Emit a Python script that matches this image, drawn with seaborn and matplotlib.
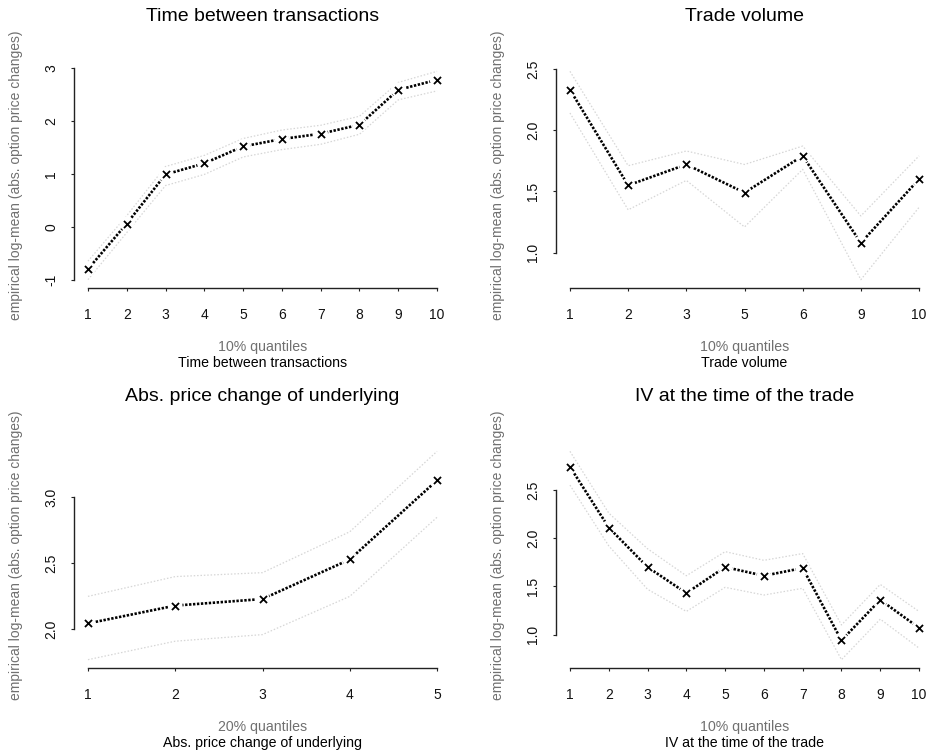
import matplotlib
matplotlib.use("Agg")
import matplotlib.pyplot as plt
import seaborn as sns
import pandas as pd

# ---- data ----
time_labels = ["1", "2", "3", "4", "5", "6", "7", "8", "9", "10"]
time_mean = [-0.80, 0.06, 0.99, 1.20, 1.52, 1.66, 1.76, 1.93, 2.59, 2.78]
time_upper = [-0.65, 0.21, 1.14, 1.35, 1.67, 1.83, 1.92, 2.09, 2.73, 2.94]
time_lower = [-1.00, -0.11, 0.78, 0.99, 1.32, 1.46, 1.56, 1.75, 2.40, 2.57]

vol_labels = ["1", "2", "3", "5", "6", "9", "10"]
vol_mean = [2.33, 1.55, 1.72, 1.49, 1.79, 1.08, 1.60]
vol_upper = [2.48, 1.71, 1.83, 1.72, 1.87, 1.30, 1.79]
vol_lower = [2.14, 1.35, 1.59, 1.21, 1.68, 0.78, 1.37]

und_labels = ["1", "2", "3", "4", "5"]
und_mean = [2.045, 2.18, 2.23, 2.53, 3.13]
und_upper = [2.25, 2.40, 2.43, 2.74, 3.35]
und_lower = [1.77, 1.91, 1.96, 2.25, 2.85]

iv_labels = ["1", "2", "3", "4", "5", "6", "7", "8", "9", "10"]
iv_mean = [2.74, 2.11, 1.70, 1.43, 1.70, 1.61, 1.69, 0.94, 1.36, 1.07]
iv_upper = [2.90, 2.26, 1.89, 1.61, 1.86, 1.77, 1.84, 1.10, 1.52, 1.24]
iv_lower = [2.55, 1.92, 1.47, 1.24, 1.49, 1.41, 1.48, 0.74, 1.16, 0.86]

titles = ["Time between transactions", "Trade volume",
          "Abs. price change of underlying", "IV at the time of the trade"]
quantile_text = ["10% quantiles", "10% quantiles", "20% quantiles", "10% quantiles"]
yticks = [[-1, 0, 1, 2, 3], [1.0, 1.5, 2.0, 2.5], [2.0, 2.5, 3.0], [1.0, 1.5, 2.0, 2.5]]
ytick_fmt = ["{:.0f}", "{:.1f}", "{:.1f}", "{:.1f}"]
ylab = "empirical log-mean (abs. option price changes)"

panels = [
    (time_labels, time_mean, time_upper, time_lower),
    (vol_labels, vol_mean, vol_upper, vol_lower),
    (und_labels, und_mean, und_upper, und_lower),
    (iv_labels, iv_mean, iv_upper, iv_lower),
]

sns.set_theme(style="white")
plt.rcParams["font.family"] = ["Liberation Sans", "DejaVu Sans"]

W, H = 930, 755
fig = plt.figure(figsize=(W / 100, H / 100), dpi=100)

# axes boxes in pixels: left, top, right, bottom
boxes = [(74, 63, 451, 288), (556, 63, 933, 288),
         (74, 443, 451, 668), (556, 443, 933, 668)]

for i, (labels, mean, upper, lower) in enumerate(panels):
    l, t, r, b = boxes[i]
    ax = fig.add_axes([l / W, (H - b) / H, (r - l) / W, (b - t) / H])
    n = len(labels)
    df = pd.DataFrame({"pos": list(range(1, n + 1)), "mean": mean,
                       "upper": upper, "lower": lower})
    for col in ["upper", "lower"]:
        sns.lineplot(data=df, x="pos", y=col, ax=ax, color="#d6d6d6",
                     linestyle=(0, (1.2, 1.5)), linewidth=0.9)
    sns.lineplot(data=df, x="pos", y="mean", ax=ax, color="black",
                 linestyle=(0, (0.9, 0.6)), linewidth=1.9)
    sns.scatterplot(data=df, x="pos", y="mean", ax=ax, color="white",
                    marker="o", s=110, edgecolor="none", zorder=3)
    sns.scatterplot(data=df, x="pos", y="mean", ax=ax, color="black",
                    marker="x", s=26, linewidth=1.3, zorder=4)
    ax.margins(x=0.04, y=0.04)
    ax.set_xticks(list(range(1, n + 1)))
    ax.set_xticklabels(labels)
    yt = yticks[i]
    ax.set_yticks(yt)
    ax.set_yticklabels([ytick_fmt[i].format(v) for v in yt], rotation=90, va="center")
    for s in ["top", "right"]:
        ax.spines[s].set_visible(False)
    ax.spines["left"].set_bounds(yt[0], yt[-1])
    ax.spines["bottom"].set_bounds(1, n)
    for s in ["left", "bottom"]:
        ax.spines[s].set_color("#222222")
        ax.spines[s].set_linewidth(1.0)
    ax.tick_params(axis="both", which="both", length=2.5, width=0.8,
                   color="#222222", labelsize=10, labelcolor="#111111",
                   left=True, bottom=True)
    ax.tick_params(axis="x", pad=12)
    ax.tick_params(axis="y", pad=9)
    ax.set_xlabel("")
    ax.set_ylabel(ylab, color="#707070", fontsize=10)
    ax.yaxis.set_label_coords(-0.135, 0.5)
    ax.grid(False)
    ax.set_facecolor("white")
    ax.text(0.5, 1.205, titles[i], transform=ax.transAxes, ha="center",
            va="center", fontsize=14, color="black")
    ax.text(0.5, -0.262, quantile_text[i], transform=ax.transAxes, ha="center",
            va="center", fontsize=10.2, color="#707070")
    ax.text(0.5, -0.333, titles[i], transform=ax.transAxes, ha="center",
            va="center", fontsize=10.2, color="black")

fig.savefig("out.png", dpi=100, facecolor="white")
